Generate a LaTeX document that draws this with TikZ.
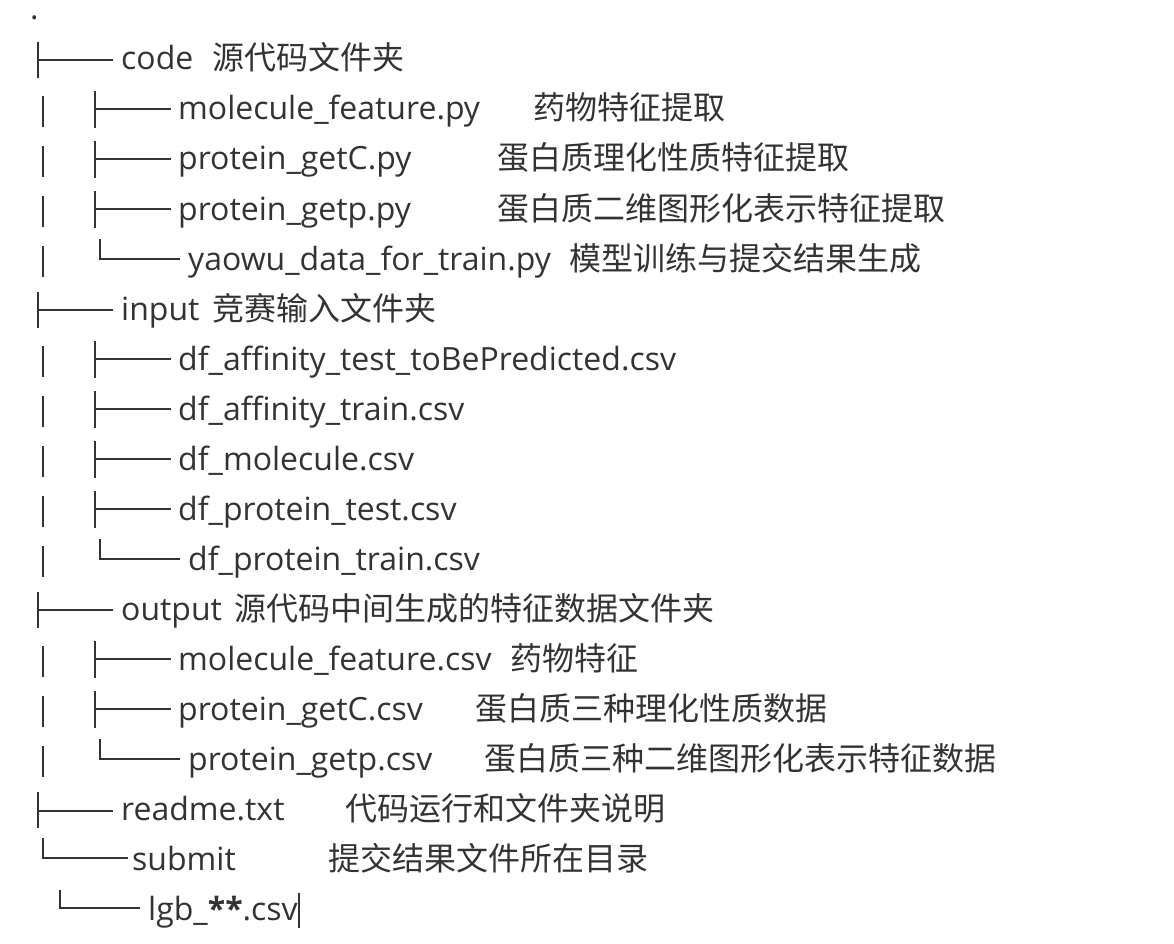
\documentclass[tikz,border=0pt]{standalone}
\usepackage{fontspec}
\setmainfont{Open Sans}
\newfontfamily\cjk{Noto Sans CJK SC}
\definecolor{ink}{HTML}{333333}

\begin{document}
\begin{tikzpicture}[x=1pt,y=-1pt,font=\fontsize{32}{40}\selectfont,text=ink,treeline/.style={draw=ink,line width=2.6pt},fname/.style={anchor=base west,inner sep=0pt},fnote/.style={anchor=base west,inner sep=0pt,font=\fontsize{32}{40}\selectfont\cjk}]
\useasboundingbox[fill=white] (0,0) rectangle (1174,944);
\node[fname,text height=4pt] (root) at (30,20) {.};
% top level
\draw[treeline] (38,42) -- (38,78) (38,60) -- (113,60); \node[fname] (code) at (121,70) {code}; \node[fnote] (codeN) at (212,70) {源代码文件夹};
\draw[treeline] (43,96) -- (43,127); \draw[treeline] (95,91) -- (95,128) (95,109) -- (171,109); \node[fname] (molpy) at (178,120) {molecule\_feature.py}; \node[fnote] (molpyN) at (533,120) {药物特征提取};
\draw[treeline] (43,146) -- (43,177); \draw[treeline] (95,141) -- (95,178) (95,159) -- (171,159); \node[fname] (getCpy) at (178,170) {protein\_getC.py}; \node[fnote] (getCpyN) at (497,170) {蛋白质理化性质特征提取};
\draw[treeline] (43,196) -- (43,227); \draw[treeline] (95,191) -- (95,228) (95,209) -- (171,209); \node[fname] (getppy) at (178,220) {protein\_getp.py}; \node[fnote] (getppyN) at (497,220) {蛋白质二维图形化表示特征提取};
\draw[treeline] (43,246) -- (43,277); \draw[treeline] (100,239) -- (100,259) -- (180,259); \node[fname] (trainpy) at (188,270) {yaowu\_data\_for\_train.py}; \node[fnote] (trainpyN) at (569,270) {模型训练与提交结果生成};
% input
\draw[treeline] (38,292) -- (38,328) (38,310) -- (113,310); \node[fname] (input) at (121,320) {input}; \node[fnote] (inputN) at (212,320) {竞赛输入文件夹};
\draw[treeline] (43,346) -- (43,377); \draw[treeline] (95,341) -- (95,378) (95,359) -- (171,359); \node[fname] (testcsv) at (178,370) {df\_affinity\_test\_toBePredicted.csv};
\draw[treeline] (43,396) -- (43,427); \draw[treeline] (95,391) -- (95,428) (95,409) -- (171,409); \node[fname] (traincsv) at (178,420) {df\_affinity\_train.csv};
\draw[treeline] (43,446) -- (43,477); \draw[treeline] (95,441) -- (95,478) (95,459) -- (171,459); \node[fname] (molcsv) at (178,470) {df\_molecule.csv};
\draw[treeline] (43,496) -- (43,527); \draw[treeline] (95,491) -- (95,528) (95,509) -- (171,509); \node[fname] (ptestcsv) at (178,520) {df\_protein\_test.csv};
\draw[treeline] (43,546) -- (43,577); \draw[treeline] (100,539) -- (100,559) -- (180,559); \node[fname] (ptraincsv) at (188,570) {df\_protein\_train.csv};
% output
\draw[treeline] (38,592) -- (38,628) (38,610) -- (113,610); \node[fname] (output) at (121,620) {output}; \node[fnote] (outputN) at (234,620) {源代码中间生成的特征数据文件夹};
\draw[treeline] (43,646) -- (43,677); \draw[treeline] (95,641) -- (95,678) (95,659) -- (171,659); \node[fname] (molfeat) at (178,670) {molecule\_feature.csv}; \node[fnote] (molfeatN) at (510,670) {药物特征};
\draw[treeline] (43,696) -- (43,727); \draw[treeline] (95,691) -- (95,728) (95,709) -- (171,709); \node[fname] (getCcsv) at (178,720) {protein\_getC.csv}; \node[fnote] (getCcsvN) at (475,720) {蛋白质三种理化性质数据};
\draw[treeline] (43,746) -- (43,777); \draw[treeline] (100,739) -- (100,759) -- (180,759); \node[fname] (getpcsv) at (188,770) {protein\_getp.csv}; \node[fnote] (getpcsvN) at (484,770) {蛋白质三种二维图形化表示特征数据};
% readme, submit
\draw[treeline] (38,792) -- (38,828) (38,811) -- (113,811); \node[fname] (readme) at (121,820) {readme.txt}; \node[fnote] (readmeN) at (345,820) {代码运行和文件夹说明};
\draw[treeline] (43,838) -- (43,858) -- (128,858); \node[fname] (submit) at (132,870) {submit}; \node[fnote] (submitN) at (328,870) {提交结果文件所在目录};
\draw[treeline] (60,890) -- (60,908) -- (140,908); \node[fname] (lgb) at (148,920) {lgb\_\textbf{**}.csv};
\draw[ink,line width=1.6pt] (lgb.base east) ++(1,-27) coordinate (caretT) -- ++(0,35) coordinate (caretB);
\end{tikzpicture}
\end{document}
